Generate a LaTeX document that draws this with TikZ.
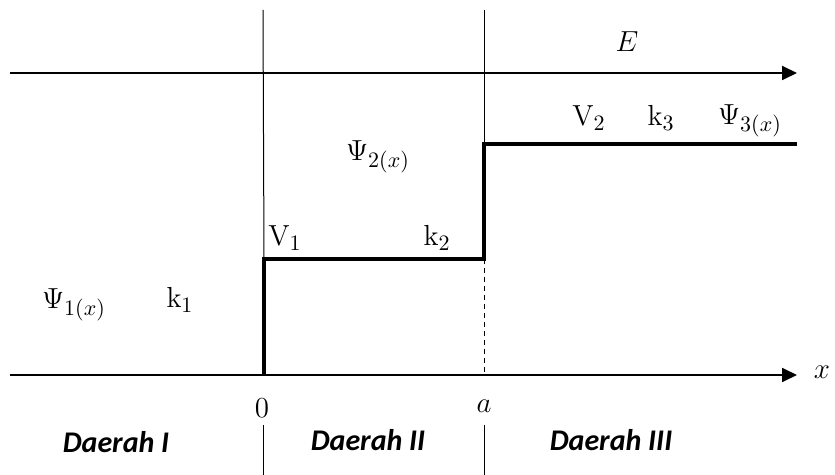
\RequirePackage{fix-cm}
\documentclass[tikz,border=0pt]{standalone}
\usepackage{fontspec}
\newfontfamily\calfont{Carlito}
\DeclareMathSizes{14.5}{14.5}{11}{8}
\usetikzlibrary{arrows.meta}
\begin{document}
\begin{tikzpicture}[x=0.5pt,y=-0.5pt,
  axis/.style={line width=0.9pt,-{Triangle[length=7.5pt,width=7pt]}},
  thin/.style={line width=0.5pt},
  pot/.style={line width=2pt,line join=miter},
  lbl/.style={font=\fontsize{14.5}{17}\selectfont,inner sep=0pt},
  region/.style={font=\calfont\bfseries\itshape\fontsize{15}{18}\selectfont,inner sep=0pt}]
\useasboundingbox (0,0) rectangle (835,475);
% coordinates
\coordinate (eL) at (10,73);
\coordinate (eR) at (797,73);
\coordinate (xL) at (10,375);
\coordinate (xR) at (797,375);
\coordinate (t0) at (263,10);
\coordinate (ta) at (484,10);
\coordinate (p0) at (264,375);
\coordinate (p1) at (264,259);
\coordinate (p2) at (484,259);
\coordinate (p3) at (484,144);
\coordinate (p4) at (797,144);
\coordinate (a0) at (484,375);
\coordinate (b0t) at (263,425);
\coordinate (b0b) at (263,475);
\coordinate (bat) at (484,425);
\coordinate (bab) at (484,475);
% thin verticals
\draw[thin] (t0) -- (p1);
\draw[thin] (ta) -- (p3);
\draw[thin] (b0t) -- (b0b);
\draw[thin] (bat) -- (bab);
\draw[thin,dashed,dash pattern=on 2.5pt off 2pt] (p2) -- (a0);
% axes
\draw[axis] (eL) -- (eR);
\draw[axis] (xL) -- (xR);
% potential
\draw[pot] (p0) -- (p1) -- (p2) -- (p3) -- (p4);
% labels
\node[lbl] (E) at (627,42) {$E$};
\node[lbl] (psi2) at (378,157) {$\Psi_{2(x)}$};
\node[lbl] (V1) at (285,238) {$\mathrm{V}_1$};
\node[lbl] (k2) at (437,238) {$\mathrm{k}_2$};
\node[lbl] (V2) at (589,118) {$\mathrm{V}_2$};
\node[lbl] (k3) at (661,118) {$\mathrm{k}_3$};
\node[lbl] (psi3) at (750,121) {$\Psi_{3(x)}$};
\node[lbl] (psi1) at (74,305) {$\Psi_{1(x)}$};
\node[lbl] (k1) at (180,300) {$\mathrm{k}_1$};
\node[lbl] (zero) at (262,408) {$0$};
\node[lbl] (aa) at (484,406) {$a$};
\node[lbl] (xx) at (822,372) {$x$};
\node[region] (d1) at (116,442) {Daerah I};
\node[region] (d2) at (368,440) {Daerah II};
\node[region] (d3) at (611,440) {Daerah III};
\end{tikzpicture}
\end{document}
